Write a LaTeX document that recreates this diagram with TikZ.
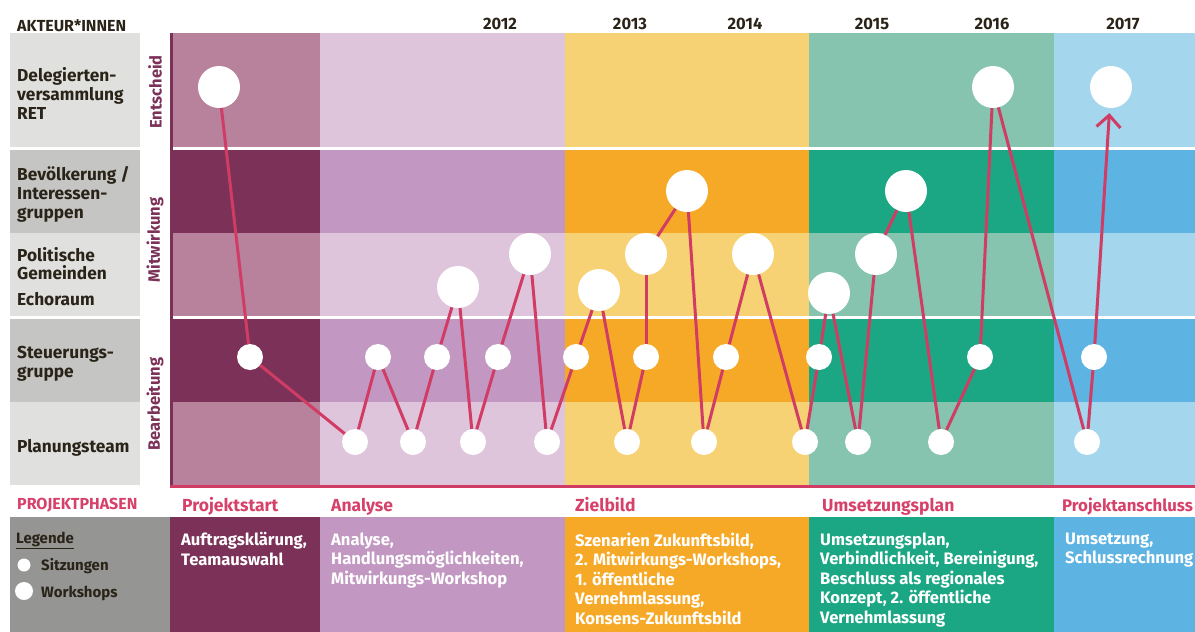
\documentclass[tikz,border=0pt]{standalone}
\usepackage{fontspec}
\setmainfont{Fira Sans}
\usetikzlibrary{arrows.meta}
\definecolor{psS}{HTML}{7B3158}
\definecolor{psL}{HTML}{B8819C}
\definecolor{anS}{HTML}{C298C2}
\definecolor{anL}{HTML}{DFC5DC}
\definecolor{zbS}{HTML}{F6A927}
\definecolor{zbL}{HTML}{F7D274}
\definecolor{upS}{HTML}{1CA784}
\definecolor{upL}{HTML}{86C4B0}
\definecolor{paS}{HTML}{5DB3E2}
\definecolor{paL}{HTML}{A4D6ED}
\definecolor{grayL}{HTML}{E0E0DF}
\definecolor{grayD}{HTML}{C5C5C4}
\definecolor{legGray}{HTML}{959594}
\definecolor{lineC}{HTML}{D13C64}
\definecolor{phaseC}{HTML}{D6416A}
\definecolor{darkT}{HTML}{2A2418}
\tikzset{
  sitz/.style={circle, fill=white, minimum size=26pt, inner sep=0pt},
  work/.style={circle, fill=white, minimum size=42pt, inner sep=0pt},
  conn/.style={draw=lineC, line width=3pt},
  actor/.style={anchor=north west, inner sep=0pt, align=left, text=darkT,
    font=\bfseries\fontsize{17.3}{19}\selectfont},
  desc/.style={anchor=north west, inner sep=0pt, align=left, text=white,
    font=\bfseries\fontsize{16.6}{19.5}\selectfont},
  year/.style={anchor=base, inner sep=0pt, text=darkT,
    font=\bfseries\fontsize{16.5}{18}\selectfont},
  phase/.style={anchor=base west, inner sep=0pt, text=phaseC,
    font=\bfseries\fontsize{17.5}{20}\selectfont},
  sect/.style={rotate=90, inner sep=0pt, text=psS,
    font=\bfseries\fontsize{16.5}{20}\selectfont},
  head/.style={anchor=base west, inner sep=0pt,
    font=\bfseries\fontsize{16}{18}\selectfont},
  legtext/.style={anchor=base west, inner sep=0pt, text=darkT,
    font=\bfseries\fontsize{15}{18}\selectfont},
}
\begin{document}
\begin{tikzpicture}[x=1pt,y=-1pt]
\useasboundingbox (0,0) rectangle (1195,632);
% left actor column
\fill[grayL] (10,33) rectangle (140,147);
\fill[grayD] (10,150) rectangle (140,233);
\fill[grayL] (10,233) rectangle (140,316);
\fill[grayD] (10,319) rectangle (140,402);
\fill[grayL] (10,402) rectangle (140,485);
% phase columns
\foreach \xa/\xb/\cs/\cl in {170/320/psS/psL, 320/565/anS/anL, 565/809/zbS/zbL, 809/1054/upS/upL, 1054/1195/paS/paL} {
  \fill[\cl] (\xa,33) rectangle (\xb,147);
  \fill[\cs] (\xa,150) rectangle (\xb,233);
  \fill[\cl] (\xa,233) rectangle (\xb,316);
  \fill[\cs] (\xa,319) rectangle (\xb,402);
  \fill[\cl] (\xa,402) rectangle (\xb,485);
  \fill[\cs] (\xa,517) rectangle (\xb,632);
}
\fill[psS] (170,33) rectangle (173,485);
\fill[lineC] (170,485) rectangle (1195,488);
\fill[legGray] (10,517) rectangle (170,632);
% headers
\node[head, text=darkT] (hakt) at (17,31) {AKTEUR*INNEN};
\node[year] (y12) at (500,29) {2012};
\node[year] (y13) at (630,29) {2013};
\node[year] (y14) at (745,29) {2014};
\node[year] (y15) at (872,29) {2015};
\node[year] (y16) at (992,29) {2016};
\node[year] (y17) at (1123,29) {2017};
% actor labels
\node[actor] (a1) at (17,67.5) {Delegierten-\\versammlung\\RET};
\node[actor] (a2) at (17,166.5) {Bevölkerung /\\Interessen-\\gruppen};
\node[actor, font=\bfseries\fontsize{17.3}{18}\selectfont] (a3) at (17,247) {Politische\\Gemeinden};
\node[actor] (a4) at (17,292.5) {Echoraum};
\node[actor] (a5) at (17,346) {Steuerungs-\\gruppe};
\node[actor] (a6) at (17,439.5) {Planungsteam};
% section labels
\node[sect] (sE) at (155,92) {Entscheid};
\node[sect] (sM) at (155,240) {Mitwirkung};
\node[sect] (sB) at (155,404) {Bearbeitung};
% phases
\node[head, text=phaseC] (hph) at (17,509) {PROJEKTPHASEN};
\node[phase] (ph1) at (182,511) {Projektstart};
\node[phase] (ph2) at (331,511) {Analyse};
\node[phase] (ph3) at (575,511) {Zielbild};
\node[phase] (ph4) at (822,511) {Umsetzungsplan};
\node[phase, font=\bfseries\fontsize{16.8}{20}\selectfont] (ph5) at (1062,511) {Projektanschluss};
% descriptions
\node[desc] (d1) at (181,532.5) {Auftragsklärung,\\Teamauswahl};
\node[desc] (d2) at (331,532.5) {Analyse,\\Handlungsmöglichkeiten,\\Mitwirkungs-Workshop};
\node[desc] (d3) at (575,532.5) {Szenarien Zukunftsbild,\\2. Mitwirkungs-Workshops,\\1. öffentliche\\Vernehmlassung,\\Konsens-Zukunftsbild};
\node[desc] (d4) at (820,532.5) {Umsetzungsplan,\\Verbindlichkeit, Bereinigung,\\Beschluss als regionales\\Konzept, 2. öffentliche\\Vernehmlassung};
\node[desc] (d5) at (1065,532.5) {Umsetzung,\\Schlussrechnung};
% legend
\node[legtext] (lg) at (16,543) {\underline{Legende}};
\node[circle, fill=white, minimum size=13pt, inner sep=0pt] (ls) at (24,565) {};
\node[circle, fill=white, minimum size=18pt, inner sep=0pt] (lw) at (24,591) {};
\node[legtext] (lst) at (41,570) {Sitzungen};
\node[legtext] (lwt) at (41,597) {Workshops};
% meetings and workshops
\node[work] (w0) at (219,87) {};
\node[sitz] (s1) at (250,357) {};
\node[sitz] (p1) at (355,442) {};
\node[sitz] (s2) at (378,357) {};
\node[sitz] (p2) at (413,442) {};
\node[sitz] (s3) at (437,357) {};
\node[work] (w1) at (458,287) {};
\node[sitz] (p3) at (473,442) {};
\node[sitz] (s4) at (498,357) {};
\node[work] (w2) at (530,254) {};
\node[sitz] (p4) at (547,442) {};
\node[sitz] (s5) at (576,357) {};
\node[work] (w3) at (599,290) {};
\node[sitz] (p5) at (627,442) {};
\node[sitz] (s6) at (646,357) {};
\node[work] (w4) at (646,254) {};
\node[work] (w5) at (687,191) {};
\node[sitz] (p6) at (704,442) {};
\node[sitz] (s7) at (726,357) {};
\node[work] (w6) at (753,254) {};
\node[sitz] (p7) at (805,442) {};
\node[sitz] (s8) at (819,357) {};
\node[work] (w7) at (829,293) {};
\node[sitz] (p8) at (858,442) {};
\node[work] (w8) at (876,254) {};
\node[work] (w9) at (906,191) {};
\node[sitz] (p9) at (941,442) {};
\node[sitz] (s9) at (980,357) {};
\node[work] (w10) at (993,87) {};
\node[sitz] (p10) at (1087,442) {};
\node[sitz] (s10) at (1094,357) {};
\node[work] (w11) at (1111,87) {};
% connectors
\foreach \a/\b in {w0/s1, s1/p1, p1/s2, s2/p2, p2/s3, s3/w1, w1/p3, p3/s4, s4/w2, w2/p4, p4/s5, s5/w3, w3/p5, p5/s6, s6/w4, w4/w5, w5/p6, p6/s7, s7/w6, w6/p7, p7/s8, s8/w7, w7/p8, p8/w8, w8/w9, w9/p9, p9/s9, s9/w10, w10/p10, p10/s10}
  \draw[conn] (\a) -- (\b);
\draw[conn, -{Straight Barb[length=12pt,width=24pt]}, shorten >=5pt] (s10) -- (w11);
\end{tikzpicture}
\end{document}
